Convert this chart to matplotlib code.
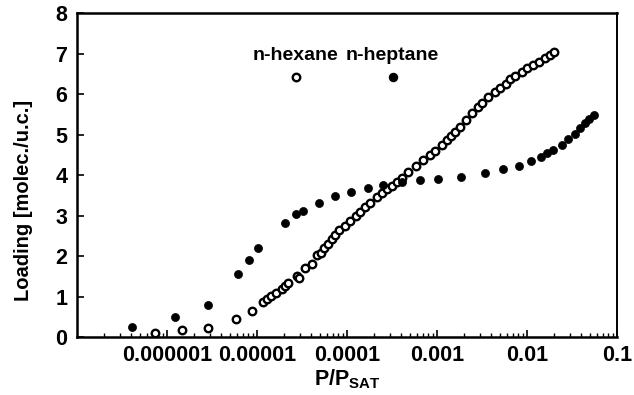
import numpy as np
import matplotlib
matplotlib.use("Agg")
import matplotlib.pyplot as plt
from matplotlib.ticker import FixedLocator, LogLocator, NullFormatter

plt.rcParams['font.family'] = ['Liberation Sans', 'DejaVu Sans']
plt.rcParams['font.weight'] = 'bold'
plt.rcParams['mathtext.fontset'] = 'custom'
plt.rcParams['mathtext.bf'] = 'Liberation Sans:bold'
plt.rcParams['mathtext.rm'] = 'Liberation Sans:bold'

# n-hexane (open circles)
hexane_p = [7.36e-7, 1.47e-6, 2.86e-6, 5.85e-6, 8.80e-6, 1.17e-5, 1.29e-5, 1.43e-5,
            1.63e-5, 1.90e-5, 2.05e-5, 2.21e-5, 2.78e-5, 2.93e-5, 3.41e-5, 4.08e-5,
            4.64e-5, 5.14e-5, 5.55e-5, 6.15e-5, 6.81e-5, 7.36e-5, 8.15e-5, 9.51e-5,
            1.08e-4, 1.26e-4, 1.39e-4, 1.58e-4, 1.80e-4, 2.15e-4, 2.45e-4, 2.78e-4,
            3.16e-4, 3.59e-4, 4.08e-4, 4.76e-4, 5.85e-4, 6.98e-4, 8.35e-4, 9.51e-4,
            1.14e-3, 1.29e-3, 1.43e-3, 1.58e-3, 1.80e-3, 2.10e-3, 2.45e-3, 2.86e-3,
            3.16e-3, 3.69e-3, 4.41e-3, 5.01e-3, 5.85e-3, 6.47e-3, 7.36e-3, 8.80e-3,
            1.00e-2, 1.17e-2, 1.36e-2, 1.58e-2, 1.80e-2, 2.00e-2]
hexane_load = [0.10, 0.17, 0.22, 0.44, 0.64, 0.86, 0.94, 1.01,
               1.09, 1.19, 1.26, 1.33, 1.51, 1.46, 1.70, 1.80,
               2.02, 2.07, 2.20, 2.30, 2.42, 2.52, 2.64, 2.74,
               2.86, 2.99, 3.09, 3.21, 3.31, 3.46, 3.56, 3.65,
               3.73, 3.83, 3.93, 4.07, 4.22, 4.37, 4.49, 4.59,
               4.74, 4.86, 4.96, 5.06, 5.19, 5.36, 5.53, 5.68,
               5.78, 5.93, 6.05, 6.15, 6.25, 6.37, 6.44, 6.54,
               6.64, 6.72, 6.79, 6.89, 6.96, 7.04]

# n-heptane (filled circles)
heptane_p = [4.08e-7, 1.23e-6, 2.86e-6, 6.15e-6, 8.15e-6, 1.03e-5, 2.05e-5, 2.71e-5,
             3.24e-5, 4.89e-5, 7.36e-5, 1.11e-4, 1.71e-4, 2.51e-4, 4.08e-4, 6.47e-4,
             1.03e-3, 1.85e-3, 3.41e-3, 5.41e-3, 8.15e-3, 1.11e-2, 1.43e-2, 1.67e-2,
             1.95e-2, 2.45e-2, 2.86e-2, 3.41e-2, 3.88e-2, 4.41e-2, 4.89e-2, 5.55e-2]
heptane_load = [0.25, 0.49, 0.79, 1.56, 1.90, 2.20, 2.81, 3.04,
                3.11, 3.31, 3.48, 3.58, 3.68, 3.75, 3.83, 3.88,
                3.90, 3.95, 4.05, 4.15, 4.22, 4.35, 4.44, 4.54,
                4.62, 4.74, 4.89, 5.01, 5.16, 5.28, 5.38, 5.48]

x_ticks = [1e-6, 1e-5, 1e-4, 1e-3, 1e-2, 1e-1]
x_tick_labels = ['0.000001', '0.00001', '0.0001', '0.001', '0.01', '0.1']
y_ticks = [0, 1, 2, 3, 4, 5, 6, 7, 8]
legend_labels = ['n-hexane', 'n-heptane']

fig = plt.figure(figsize=(6.34, 3.95), dpi=100)
ax = fig.add_axes([0.1215, 0.1468, 0.8517, 0.8202])

ax.plot(hexane_p, hexane_load, 'o', ms=5.4, mfc='white', mec='black', mew=1.7, ls='none')
ax.plot(heptane_p, heptane_load, 'o', ms=5.8, mfc='black', mec='black', mew=0.5, ls='none')

ax.set_xscale('log')
ax.set_xlim(1e-7, 1e-1)
ax.set_ylim(0, 8)

ax.xaxis.set_major_locator(FixedLocator(x_ticks))
ax.set_xticklabels(x_tick_labels)
ax.xaxis.set_minor_locator(LogLocator(base=10, subs=np.arange(2, 10), numticks=20))
ax.xaxis.set_minor_formatter(NullFormatter())
ax.set_yticks(y_ticks)

for s in ['left', 'bottom', 'top']:
    ax.spines[s].set_linewidth(1.8)
ax.spines['right'].set_linewidth(1.4)

ax.tick_params(axis='both', which='major', direction='in', length=5, width=1.2,
               labelsize=15.5, top=False, right=False)
ax.tick_params(axis='x', which='minor', direction='in', length=3, width=1.0, top=False)
ax.tick_params(axis='x', which='major', pad=6)
ax.tick_params(axis='y', which='major', pad=7)
for lab in ax.get_xticklabels() + ax.get_yticklabels():
    lab.set_fontweight('bold')

ax.set_xlabel(r'$\mathbf{P/P_{SAT}}$', fontsize=15.5, labelpad=1)
ax.set_ylabel('Loading [molec./u.c.]', fontsize=14.5, fontweight='bold')
ax.yaxis.set_label_coords(-0.082, 0.423)

# legend-like annotation
ax.text(0.404, 0.870, legend_labels[0], transform=ax.transAxes, ha='center', va='center',
        fontsize=14, fontweight='bold')
ax.text(0.583, 0.870, legend_labels[1], transform=ax.transAxes, ha='center', va='center',
        fontsize=14, fontweight='bold')
ax.plot([0.406], [0.802], 'o', ms=5.4, mfc='white', mec='black', mew=1.7, transform=ax.transAxes)
ax.plot([0.585], [0.802], 'o', ms=5.8, mfc='black', mec='black', transform=ax.transAxes)

fig.savefig('out.png', dpi=100)
